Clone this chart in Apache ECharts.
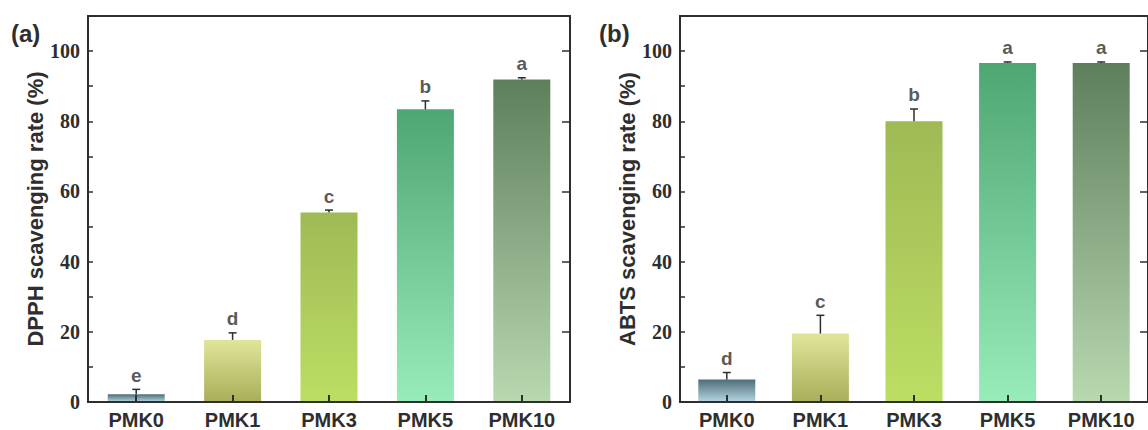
<!DOCTYPE html>
<html>
<head>
<meta charset="utf-8">
<script src="https://cdn.jsdelivr.net/npm/echarts@6/dist/echarts.min.js"></script>
<style>
html,body{margin:0;padding:0;background:#fff;}
#c{width:1148px;height:430px;}
</style>
</head>
<body>
<div id="c"></div>
<script>
// ---- data ----
const categories = ['PMK0', 'PMK1', 'PMK3', 'PMK5', 'PMK10'];
const dpphMean = [2.2, 17.7, 54.0, 83.4, 91.9];
const dpphErr = [1.4, 2.0, 0.7, 2.4, 0.5];
const dpphLetters = ['e', 'd', 'c', 'b', 'a'];
const abtsMean = [6.4, 19.5, 80.0, 96.6, 96.6];
const abtsErr = [2.0, 5.2, 3.5, 0.3, 0.3];
const abtsLetters = ['d', 'c', 'b', 'a', 'a'];
const yTickValues = [0, 20, 40, 60, 80, 100];

// ---- styles ----
const barGradients = [
  ['#4f6b78', '#b4d8e4'],
  ['#e0e59a', '#a9ae5a'],
  ['#9fba55', '#bcde63'],
  ['#4ea673', '#98ecba'],
  ['#5e7f5c', '#b8d8b0']
];
const ink = '#2e2e2e';
const sans = '"Liberation Sans", Arial, sans-serif';
const serif = '"Liberation Serif", "Times New Roman", serif';

function grad(i) {
  return new echarts.graphic.LinearGradient(0, 0, 0, 1, [
    {offset: 0, color: barGradients[i][0]},
    {offset: 1, color: barGradients[i][1]}
  ]);
}

function xAxisDef(g) {
  return {
    gridIndex: g, type: 'category', data: categories, z: 10,
    axisLine: {show: true, lineStyle: {color: ink, width: 2}},
    axisTick: {show: true, inside: true, alignWithLabel: true, length: 7, lineStyle: {color: ink, width: 2}},
    axisLabel: {fontFamily: sans, fontWeight: 'bold', fontSize: 20, color: ink, margin: 8},
    splitLine: {show: false}
  };
}
function yAxisMain(g, name) {
  return {
    gridIndex: g, type: 'value', min: 0, max: 110, interval: 10, z: 10,
    axisLine: {show: true, lineStyle: {color: ink, width: 2}},
    axisTick: {show: true, inside: true, length: 5, lineStyle: {color: ink, width: 1.5}},
    axisLabel: {
      formatter: function (v) { const r = Math.round(v); return yTickValues.indexOf(r) >= 0 ? String(r) : ''; },
      fontFamily: serif, fontWeight: 'bold', fontSize: 20, color: ink, margin: 8
    },
    splitLine: {show: false},
    name: name, nameLocation: 'middle', nameGap: 42,
    nameTextStyle: {fontFamily: sans, fontWeight: 'bold', fontSize: 22, color: ink}
  };
}
function yAxisMajor(g) {
  return {
    gridIndex: g, type: 'value', min: 0, max: 110, interval: 20, z: 10,
    axisLine: {show: false},
    axisTick: {show: true, inside: true, length: 8, lineStyle: {color: ink, width: 1.5}},
    axisLabel: {show: false},
    splitLine: {show: false}
  };
}
function barSeries(g, mean) {
  return {
    type: 'bar', xAxisIndex: g, yAxisIndex: g * 2, barWidth: 57, z: 2,
    data: mean.map((v, i) => ({value: v, itemStyle: {color: grad(i)}}))
  };
}
function errSeries(g, mean, err) {
  return {
    type: 'custom', xAxisIndex: g, yAxisIndex: g * 2, z: 3,
    data: mean.map((v, i) => [i, v, err[i]]),
    encode: {x: 0, y: 1},
    renderItem: function (params, api) {
      const b = api.coord([api.value(0), api.value(1)]);
      const t = api.coord([api.value(0), api.value(1) + api.value(2)]);
      return {type: 'group', children: [
        {type: 'line', shape: {x1: b[0], y1: b[1], x2: t[0], y2: t[1]}, style: {stroke: ink, lineWidth: 1.5}},
        {type: 'line', shape: {x1: t[0] - 4, y1: t[1], x2: t[0] + 4, y2: t[1]}, style: {stroke: ink, lineWidth: 1.5}}
      ]};
    }
  };
}
function letterSeries(g, mean, err, letters) {
  return {
    type: 'scatter', xAxisIndex: g, yAxisIndex: g * 2, z: 4,
    symbolSize: 1, itemStyle: {color: 'rgba(0,0,0,0)'},
    data: mean.map((v, i) => [i, v + err[i]]),
    label: {show: true, position: 'top', distance: 4,
      formatter: function (p) { return letters[p.dataIndex]; },
      fontFamily: sans, fontWeight: 'bold', fontSize: 19, color: ink},
    silent: true
  };
}

const chart = echarts.init(document.getElementById('c'), null, {renderer: 'svg'});
chart.setOption({
  animation: false,
  backgroundColor: '#ffffff',
  title: [
    {text: '(a)', left: 11, top: 21, padding: 0, textStyle: {fontFamily: sans, fontWeight: 'bold', fontSize: 24, color: ink}},
    {text: '(b)', left: 599, top: 21, padding: 0, textStyle: {fontFamily: sans, fontWeight: 'bold', fontSize: 24, color: ink}}
  ],
  grid: [
    {left: 88, top: 16, width: 482, height: 386, show: true, borderColor: ink, borderWidth: 2, backgroundColor: 'transparent'},
    {left: 680, top: 16, width: 482, height: 387, show: true, borderColor: ink, borderWidth: 2, backgroundColor: 'transparent'}
  ],
  xAxis: [xAxisDef(0), xAxisDef(1)],
  yAxis: [yAxisMain(0, 'DPPH scavenging rate (%)'), yAxisMajor(0), yAxisMain(1, 'ABTS scavenging rate (%)'), yAxisMajor(1)],
  series: [
    barSeries(0, dpphMean), errSeries(0, dpphMean, dpphErr), letterSeries(0, dpphMean, dpphErr, dpphLetters),
    barSeries(1, abtsMean), errSeries(1, abtsMean, abtsErr), letterSeries(1, abtsMean, abtsErr, abtsLetters)
  ]
});
</script>
</body>
</html>
